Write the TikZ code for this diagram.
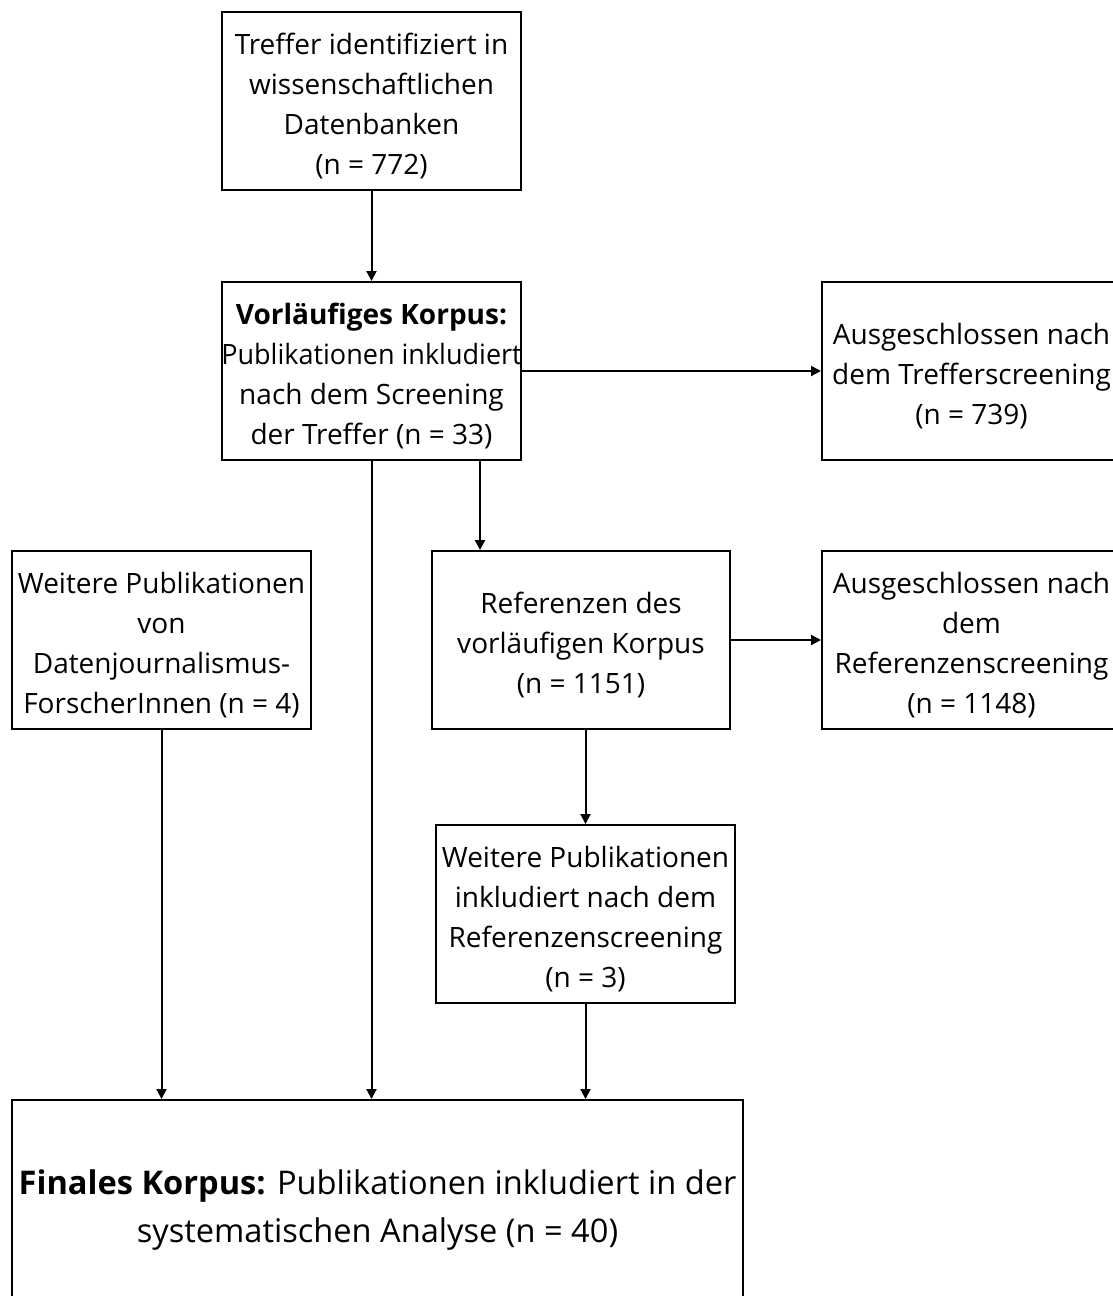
\documentclass[tikz,border=0pt]{standalone}
\usepackage{fontspec}
\setmainfont{Open Sans}
\usetikzlibrary{arrows.meta,calc}

\tikzset{
  box/.style={draw, line width=1pt, minimum width=149.5pt, minimum height=89pt,
    inner sep=0pt},
  bigbox/.style={draw, line width=1pt, minimum width=365.5pt, minimum height=106pt,
    inner sep=0pt},
  txt/.style={inner sep=0pt, align=center, font=\fontsize{14}{20}\selectfont},
  bigtxt/.style={inner sep=0pt, align=center, font=\fontsize{16.3}{24}\selectfont},
  arr/.style={line width=1pt, -{Triangle[length=5pt,width=5pt]}}
}

\begin{document}
\begin{tikzpicture}[x=0.5pt,y=-0.5pt]
\useasboundingbox (0,0) rectangle (1113,1296);

% boxes
\node[box] (b1) at (371.5,101) {};
\node[box] (b2) at (371.5,371) {};
\node[box] (b3) at (971.5,371) {};
\node[box] (b4) at (161.5,640) {};
\node[box, minimum width=149pt] (b5) at (581,640) {};
\node[box] (b6) at (971.5,640) {};
\node[box] (b7) at (585.5,914) {};
\node[bigbox] (b8) at (377.5,1206) {};

% box texts
\node[txt] (t1) at ([yshift=-2.5pt]b1) {Treffer identifiziert in\\wissenschaftlichen\\Datenbanken\\(n = 772)};
\node[txt] (t2) at ([yshift=-2.5pt]b2) {\textbf{Vorläufiges Korpus:}\\\scalebox{0.965}[1]{Publikationen inkludiert}\\nach dem Screening\\der Treffer (n = 33)};
\node[txt] (t3) at ([yshift=-2.5pt]b3) {Ausgeschlossen nach\\dem Trefferscreening\\(n = 739)};
\node[txt] (t4) at ([yshift=-2.5pt]b4) {Weitere Publikationen\\von\\Datenjournalismus-\\ForscherInnen (n = 4)};
\node[txt] (t5) at ([yshift=-2.5pt]b5) {Referenzen des\\vorläufigen Korpus\\(n = 1151)};
\node[txt] (t6) at ([yshift=-2.5pt]b6) {Ausgeschlossen nach\\dem\\Referenzenscreening\\(n = 1148)};
\node[txt] (t7) at ([yshift=-2.5pt]b7) {Weitere Publikationen\\inkludiert nach dem\\Referenzenscreening\\(n = 3)};
\node[bigtxt] (t8) at ([yshift=-2pt]b8) {\textbf{Finales Korpus:} Publikationen inkludiert in der\\systematischen Analyse (n = 40)};

\coordinate (s1) at ([xshift=54.25pt]b2.south);

% connectors
\draw[arr] (b1.south) -- (b2.north);
\draw[arr] (b2.east) -- (b3.west);
\draw[arr] (s1) -- (s1 |- b5.north);
\draw[arr] (b5.east) -- (b6.west);
\draw[arr] (b7.north |- b5.south) -- (b7.north);
\draw[arr] (b4.south) -- (b4.south |- b8.north);
\draw[arr] (b2.south) -- (b2.south |- b8.north);
\draw[arr] (b7.south) -- (b7.south |- b8.north);
\end{tikzpicture}
\end{document}
